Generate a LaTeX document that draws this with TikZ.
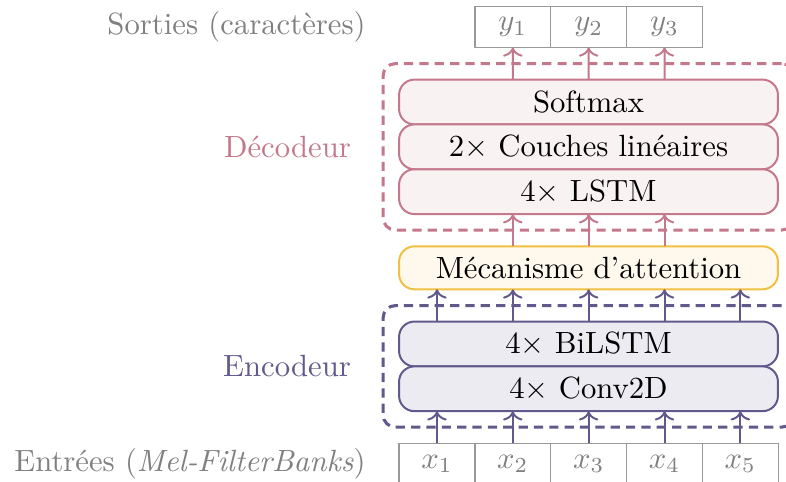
\documentclass[tikz,border=0pt]{standalone}
\usepackage{tikz}
\usetikzlibrary{arrows.meta, positioning, fit}
\usepackage{amsmath, amssymb}
\definecolor{decrose}{RGB}{196, 120, 140}
\definecolor{encviolet}{RGB}{98, 88, 140}
\definecolor{attjaune}{RGB}{240, 192, 64}
\tikzset{
  couche/.style={draw, rounded corners=5pt, line width=0.65pt, minimum width=123.4pt, minimum height=14.6pt, inner sep=0pt, outer sep=0pt},
  cellule/.style={draw=gray!80, line width=0.4pt, minimum width=24.7pt, minimum height=13.4pt, inner sep=0pt, outer sep=0pt, text=gray},
  bloc/.style={draw, dash pattern=on 3pt off 2pt, line width=1pt, rounded corners=4pt, inner sep=5.2pt},
  fleche/.style={->, line width=0.65pt},
  etiquette/.style={inner sep=0pt},
}

\begin{document}
\begin{tikzpicture}[x=0.3257pt, y=-0.3257pt]
  \useasboundingbox (0,0) rectangle (786,481);
  % decodeur
  \node[couche, draw=decrose, fill=decrose!10] (softmax) at (588.5,102) {Softmax};
  \node[couche, draw=decrose, fill=decrose!10, below=0pt of softmax] (lineaires) {$2\times$ Couches linéaires};
  \node[couche, draw=decrose, fill=decrose!10, below=0pt of lineaires] (lstm) {$4\times$ LSTM};
  \node[couche, draw=attjaune, fill=attjaune!10, minimum height=14pt, below=10.5pt of lstm] (attention) {Mécanisme d'attention};
  % encodeur
  \node[couche, draw=encviolet, fill=encviolet!12, below=10.5pt of attention] (bilstm) {$4\times$ BiLSTM};
  \node[couche, draw=encviolet, fill=encviolet!12, below=0pt of bilstm] (conv) {$4\times$ Conv2D};

  \node[cellule, below right=10.5pt and 0pt of conv.south west] (x1) {$x_1$};
  \foreach \i [remember=\i as \p (initially 1)] in {2,...,5}
    \node[cellule, right=0pt of x\p] (x\i) {$x_\i$};
  \node[cellule, above right=10.5pt and 24.7pt of softmax.north west] (y1) {$y_1$};
  \foreach \i [remember=\i as \p (initially 1)] in {2,3}
    \node[cellule, right=0pt of y\p] (y\i) {$y_\i$};

  \node[bloc, draw=decrose, fit=(softmax)(lstm)] (decodeur) {};
  \node[bloc, draw=encviolet, fit=(bilstm)(conv)] (encodeur) {};

  \foreach \i in {1,...,5} {
    \draw[fleche, encviolet] (x\i.north) -- (x\i.north |- conv.south);
    \draw[fleche, encviolet] (x\i.north |- bilstm.north) -- (x\i.north |- attention.south);
  }
  \foreach \i in {2,3,4}
    \draw[fleche, decrose] (x\i.north |- attention.north) -- (x\i.north |- lstm.south);
  \foreach \i [count=\k from 2] in {1,2,3}
    \draw[fleche, decrose] (x\k.north |- softmax.north) -- (y\i.south);

  \node[etiquette, text=decrose, left=9.8pt of decodeur] (lbldec) {Décodeur};
  \node[etiquette, text=encviolet, left=9.8pt of encodeur] (lblenc) {Encodeur};
  \node[etiquette, text=gray, left=10.7pt of x1] (lblin) {Entrées (\textit{Mel-FilterBanks})};
  \node[etiquette, text=gray, anchor=east] (lblout) at ([xshift=-10.7pt]x1.west |- y1) {Sorties (caractères)};
\end{tikzpicture}
\end{document}
